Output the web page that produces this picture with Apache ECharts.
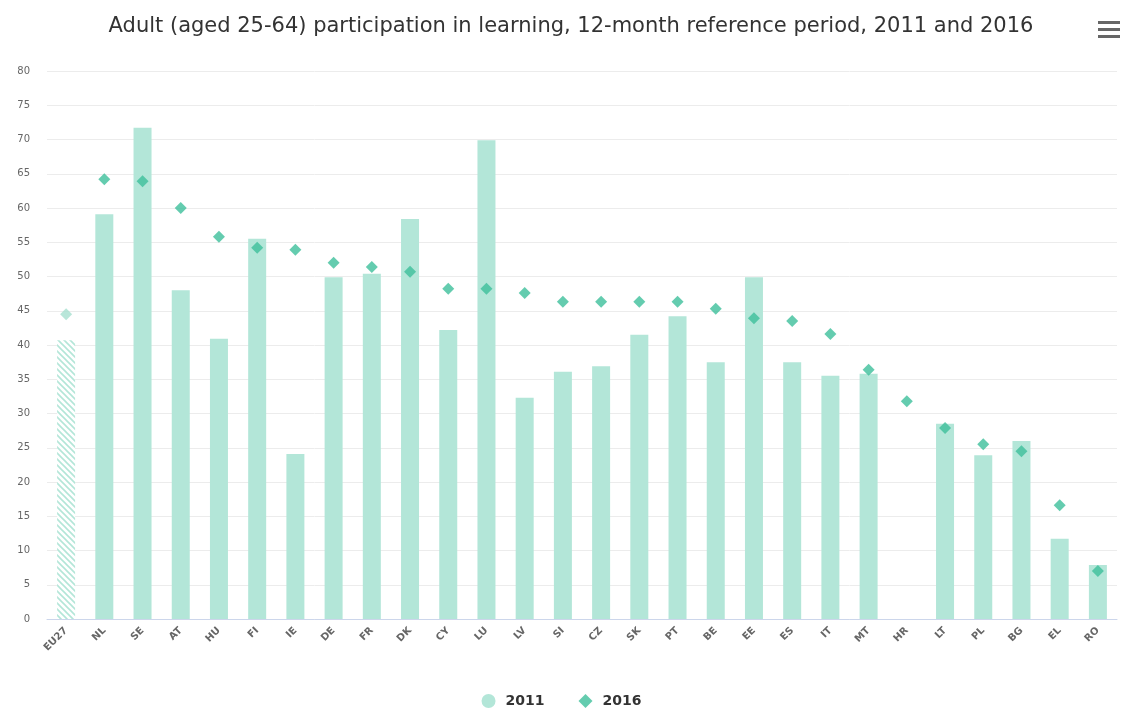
<!DOCTYPE html>
<html>
<head>
<meta charset="utf-8">
<script src="https://cdn.jsdelivr.net/npm/echarts@6/dist/echarts.min.js"></script>
<style>html,body{margin:0;padding:0;background:#fff}#c{width:1123px;height:709px}</style>
</head>
<body>
<div id="c"></div>
<script>
const categories = ['EU27','NL','SE','AT','HU','FI','IE','DE','FR','DK','CY','LU','LV','SI','CZ','SK','PT','BE','EE','ES','IT','MT','HR','LT','PL','BG','EL','RO'];
const values2011 = [40.7,59.1,71.7,48.0,40.9,55.5,24.1,49.9,50.4,58.4,42.2,69.9,32.3,36.1,36.9,41.5,44.2,37.5,49.9,37.5,35.5,35.8,null,28.5,23.9,26.0,11.7,7.9];
const values2016 = [44.5,64.2,63.9,60.0,55.8,54.2,53.9,52.0,51.4,50.7,48.2,48.2,47.6,46.3,46.3,46.3,46.3,45.3,43.9,43.5,41.6,36.4,31.8,27.9,25.5,24.5,16.6,7.0];
const yTicks = [0,5,10,15,20,25,30,35,40,45,50,55,60,65,70,75,80];

const BAR = '#b3e6d8';
const DIA = '#3dbf9b';

// hatched pattern for EU27
const pc = document.createElement('canvas');
pc.width = 6; pc.height = 6;
const g = pc.getContext('2d');
g.fillStyle = '#ffffff'; g.fillRect(0,0,6,6);
g.strokeStyle = BAR; g.lineWidth = 1.6;
g.beginPath();
g.moveTo(-1,-1); g.lineTo(7,7);
g.moveTo(-4,2); g.lineTo(4,10);
g.moveTo(2,-4); g.lineTo(10,4);
g.stroke();

const barData = values2011.map((v,i) => i === 0 ? {value: v, itemStyle: {color: {image: pc, repeat: 'repeat'}}} : v);
const diaData = values2016.map((v,i) => i === 0 ? {value: v, itemStyle: {color: '#a6e0cf'}} : v);

const chart = echarts.init(document.getElementById('c'));
chart.setOption({
  animation: false,
  title: {
    text: 'Adult (aged 25-64) participation in learning, 12-month reference period, 2011 and 2016',
    left: 566, top: 11, textAlign: 'center',
    textStyle: {fontFamily: 'DejaVu Sans', fontSize: 21, fontWeight: 'normal', color: '#333'}
  },
  toolbox: {
    left: 1098, top: 21, itemSize: 22, padding: 0,
    feature: {
      myMenu: {show: true, title: '', icon: 'path://M0,0H22V3H0ZM0,7H22V10H0ZM0,14H22V17H0Z', onclick: function(){}}
    },
    iconStyle: {color: '#666', borderColor: '#666', borderWidth: 0}
  },
  legend: {
    bottom: -4, left: 'center', itemGap: 34, itemWidth: 14, itemHeight: 14,
    textStyle: {fontFamily: 'DejaVu Sans', fontSize: 14, fontWeight: 'bold', color: '#333', padding: [0,0,0,5]},
    data: [{name: '2011', icon: 'circle'}, {name: '2016', icon: 'diamond'}]
  },
  grid: {left: 47, right: 6, top: 71, bottom: 90},
  xAxis: {
    type: 'category', data: categories,
    axisLine: {lineStyle: {color: '#ccd6eb'}},
    axisTick: {show: false},
    axisLabel: {rotate: 45, interval: 0, fontFamily: 'DejaVu Sans', fontSize: 10, fontWeight: 'bold', color: '#666', margin: 10}
  },
  yAxis: {
    type: 'value', min: 0, max: 80, interval: 5,
    axisLine: {show: false}, axisTick: {show: false},
    splitLine: {lineStyle: {color: '#ececec'}},
    axisLabel: {fontFamily: 'DejaVu Sans', fontSize: 10, color: '#666', margin: 17,
      formatter: v => yTicks.includes(v) ? String(v) : ''}
  },
  series: [
    {name: '2011', type: 'bar', data: barData, barWidth: 18, itemStyle: {color: BAR}, z: 2},
    {name: '2016', type: 'scatter', data: diaData, symbol: 'diamond', symbolSize: 12, itemStyle: {color: DIA}, z: 3}
  ]
});
</script>
</body>
</html>
